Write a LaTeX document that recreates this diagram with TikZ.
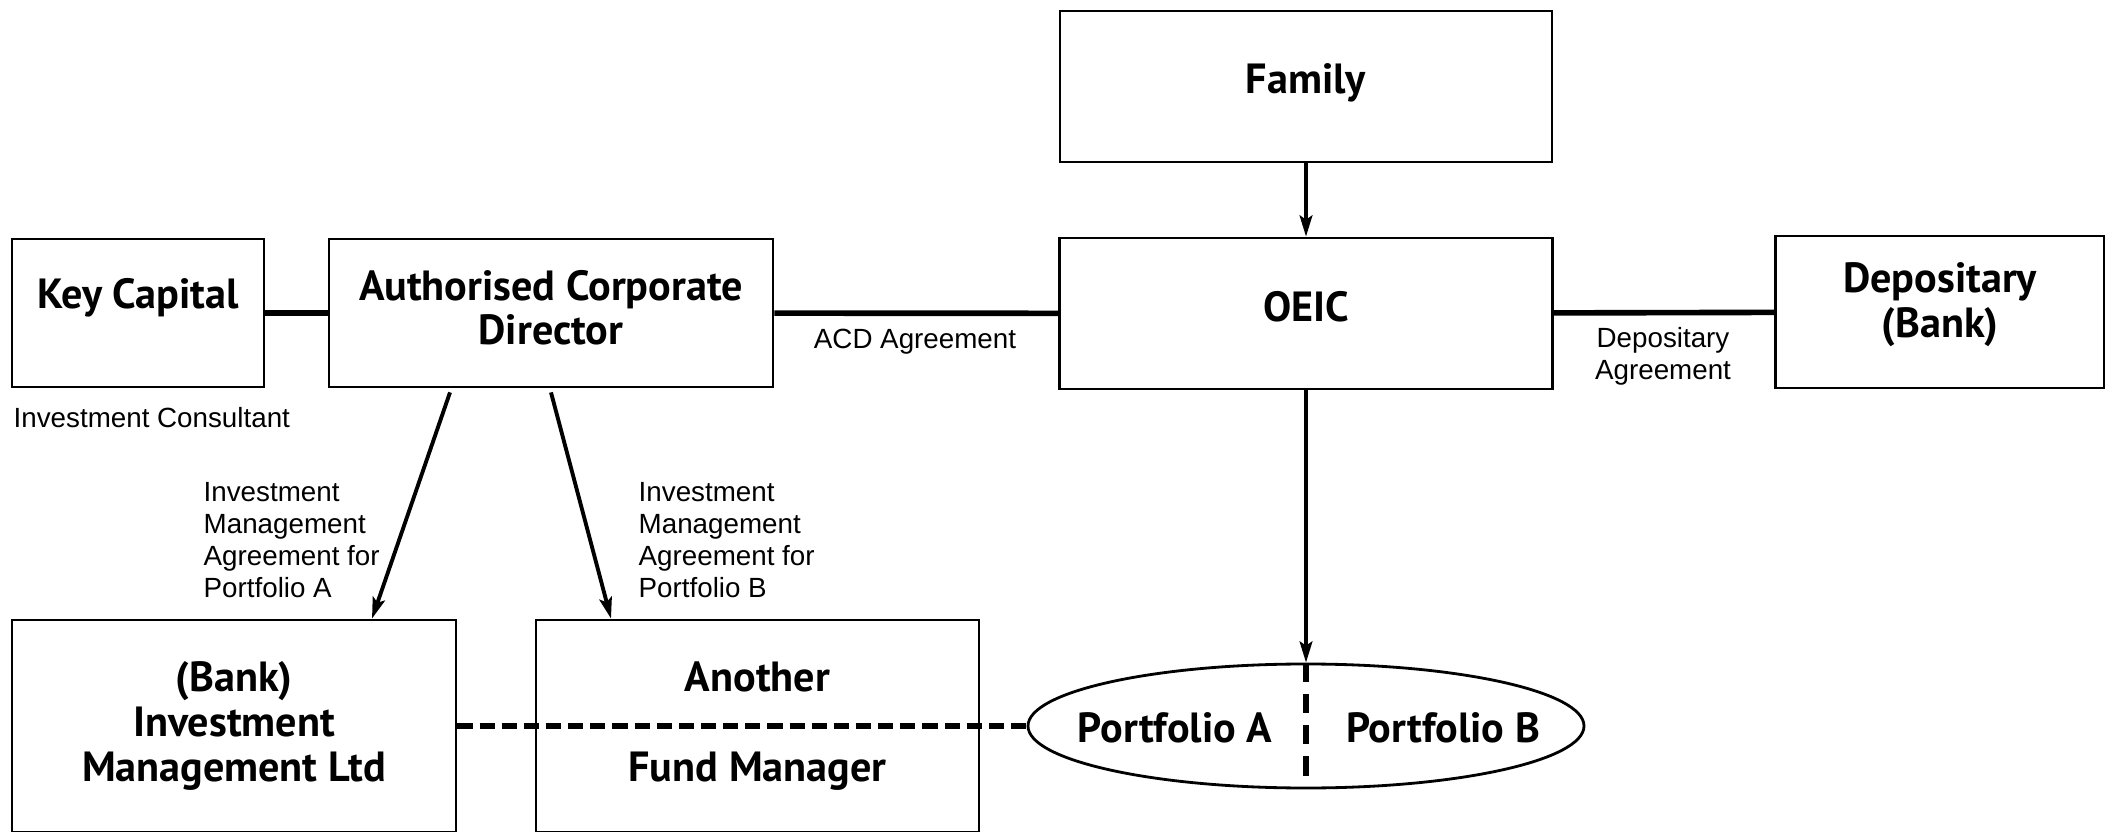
\documentclass[tikz,border=0pt]{standalone}
\usepackage{fontspec}
\setmainfont{PT Sans}
\newfontfamily\notefont{Liberation Sans}
\usetikzlibrary{shapes.geometric,arrows.meta}

\begin{document}
\begin{tikzpicture}[
    box/.style={rectangle, draw, line width=0.8pt, align=center, font=\fontsize{12}{12.7}\selectfont\bfseries},
    pool/.style={ellipse, draw, line width=0.8pt, inner sep=0pt, minimum width=5.56cm, minimum height=1.24cm},
    bold/.style={font=\fontsize{12}{12.7}\selectfont\bfseries},
    note/.style={font=\notefont\fontsize{7.9}{9.1}\selectfont, align=left, inner sep=0pt},
    link/.style={line width=1.6pt},
    arrow/.style={-{Stealth[length=6pt,width=3.6pt,inset=1.2pt]}, line width=1.1pt},
    dashlink/.style={line width=1.6pt, dash pattern=on 4.3pt off 2pt}
]
\useasboundingbox (0,0) rectangle (21.05,-8.32);

% Riquadri superiori
\node[box, minimum width=4.92cm, minimum height=1.51cm, text depth=0.165cm] (family) at (13.06,-0.865) {Family};
\node[box, minimum width=4.93cm, minimum height=1.51cm, text depth=0.14cm] (oeic) at (13.06,-3.135) {OEIC};
\node[box, minimum width=2.52cm, minimum height=1.48cm, text depth=0.385cm] (keycap) at (1.38,-3.13) {Key Capital};
\node[box, minimum width=4.44cm, minimum height=1.48cm, text depth=0.11cm] (acd) at (5.51,-3.13) {Authorised Corporate\\Director};
\node[box, minimum width=3.29cm, minimum height=1.52cm, text depth=0.245cm] (depositary) at (19.40,-3.12) {Depositary\\(Bank)};

% Gestori e portafogli
\node[box, minimum width=4.44cm, minimum height=2.12cm] (bankim) at (2.34,-7.26) {(Bank)\\Investment\\Management Ltd};
\node[box, minimum width=4.43cm, minimum height=2.12cm] (another) at (7.575,-7.26) {Another\\[12.7pt]Fund Manager};
\node[pool] (portfolio) at (13.06,-7.26) {};
\node[bold] (porta) at (11.75,-7.28) {Portfolio A};
\node[bold] (portb) at (14.43,-7.28) {Portfolio B};

% Connessioni
\draw[link] (keycap) -- (acd);
\draw[link] (acd) -- (oeic);
\draw[link] (oeic) -- (depositary);
\draw[arrow] (family) -- (oeic);
\draw[arrow] (oeic) -- (portfolio.north);
\draw[arrow] ([xshift=-1.01cm, yshift=-0.04cm]acd.south) -- ([xshift=1.38cm]bankim.north);
\draw[arrow] ([yshift=-0.04cm]acd.south) -- ([xshift=-1.465cm]another.north);
\draw[dashlink] (bankim.east) -- (portfolio.west);
\draw[dashlink, dash pattern=on 5.5pt off 3.4pt] (portfolio.north) -- (portfolio.south);

% Etichette
\node[note, anchor=west] (consultant) at (0.13,-4.18) {Investment Consultant};
\node[note] (acdlabel) at (9.15,-3.42) {ACD Agreement};
\node[note, align=center] (deplabel) at (16.63,-3.56) {Depositary\\Agreement};
\node[note, anchor=west] (imalabel) at (2.03,-5.40) {Investment\\Management\\Agreement for\\Portfolio A};
\node[note, anchor=west] (imblabel) at (6.38,-5.40) {Investment\\Management\\Agreement for\\Portfolio B};

\end{tikzpicture}
\end{document}
